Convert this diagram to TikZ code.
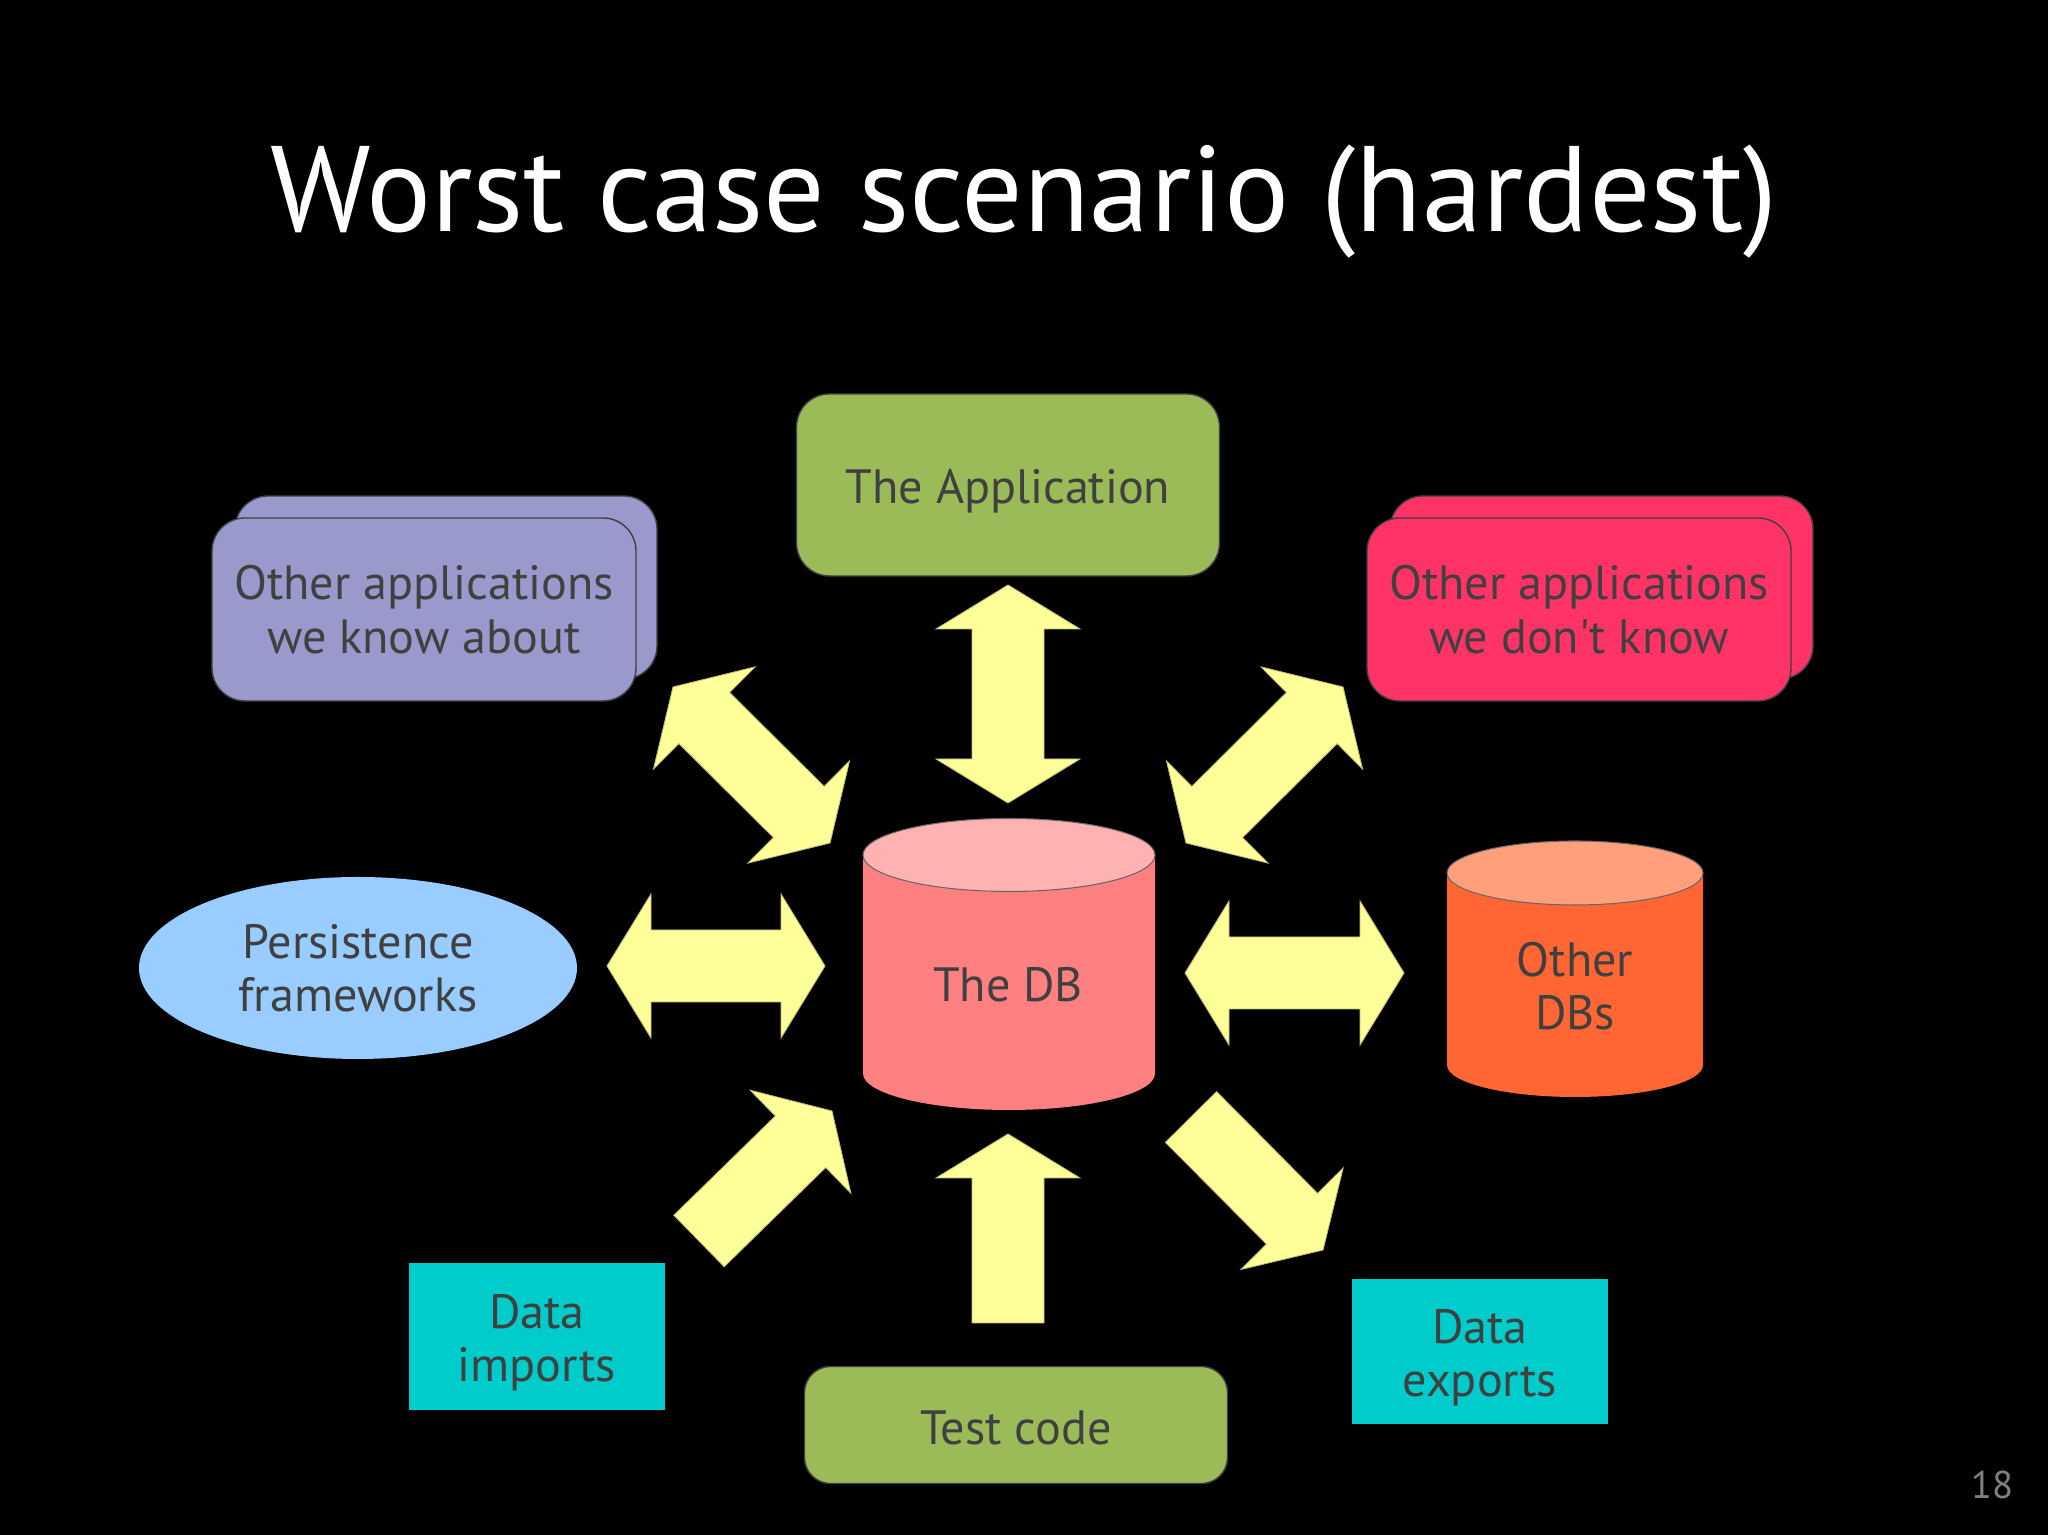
\documentclass[tikz,border=0pt]{standalone}
\usepackage{fontspec}
\setmainfont{PT Sans}
\usetikzlibrary{calc,shapes.geometric}
\definecolor{appgreen}{RGB}{155,187,89}
\definecolor{knowpurple}{RGB}{153,153,204}
\definecolor{unkred}{RGB}{255,51,102}
\definecolor{persblue}{RGB}{153,204,255}
\definecolor{dbbody}{RGB}{255,128,128}
\definecolor{dbtop}{RGB}{255,178,178}
\definecolor{odbbody}{RGB}{255,102,51}
\definecolor{odbtop}{RGB}{255,160,122}
\definecolor{datacyan}{RGB}{0,204,204}
\definecolor{arrowyellow}{RGB}{255,255,153}
\definecolor{txtgray}{RGB}{64,64,64}
\tikzset{
  txt/.style={text=txtgray, font=\fontsize{13.7}{15.2}\selectfont, align=center},
  outl/.style={draw=black!75, line width=0.4pt},
  rbox/.style={outl, rounded corners=3.3mm, inner sep=0pt},
  sbox/.style={inner sep=0pt},
  blockarrow/.style={fill=arrowyellow, draw=arrowyellow!75!black, line width=0.25pt},
}
\newcommand\dblarrow[2]{%
  \coordinate (ha) at ($(#1)!4.4mm!(#2)$);
  \coordinate (hb) at ($(#2)!4.4mm!(#1)$);
  \filldraw[blockarrow] (#1) -- ($(ha)!7.2mm!90:(#1)$) -- ($(ha)!3.6mm!90:(#1)$)
    -- ($(hb)!3.6mm!90:(#1)$) -- ($(hb)!7.2mm!90:(#1)$) -- (#2)
    -- ($(hb)!7.2mm!-90:(#1)$) -- ($(hb)!3.6mm!-90:(#1)$)
    -- ($(ha)!3.6mm!-90:(#1)$) -- ($(ha)!7.2mm!-90:(#1)$) -- cycle;}
\newcommand\sglarrow[2]{%
  \coordinate (hb) at ($(#2)!4.4mm!(#1)$);
  \filldraw[blockarrow] (#2) -- ($(hb)!7.2mm!90:(#1)$) -- ($(hb)!3.6mm!90:(#1)$)
    -- ($(#1)!3.6mm!-90:(#2)$) -- ($(#1)!3.6mm!90:(#2)$)
    -- ($(hb)!3.6mm!-90:(#1)$) -- ($(hb)!7.2mm!-90:(#1)$) -- cycle;}
\begin{document}
\begin{tikzpicture}[x=0.1mm,y=0.1mm]
\fill[black] (0,0) rectangle (2048,1535);
\useasboundingbox (0,0) rectangle (2048,1535);

% title
\node[anchor=base, text=white, font=\fontsize{34.6}{40}\selectfont] (title) at (1024,1303) {Worst case scenario (hardest)};

% the application
\node[rbox, fill=appgreen, minimum width=42.3mm, minimum height=18.2mm] (app) at (1008,1050) {};
\node[txt] (appT) at (1008,1043.5) {The Application};

% other apps we know about
\node[rbox, fill=knowpurple, minimum width=42.2mm, minimum height=18.3mm] (knowback) at (446,947.5) {};
\node[rbox, fill=knowpurple, minimum width=42.4mm, minimum height=18.3mm, txt] (know) at (424,925.5) {Other applications\\we know about};

% other apps we don't know
\node[rbox, fill=unkred, minimum width=42.3mm, minimum height=18.3mm] (unkback) at (1601.5,947.5) {};
\node[rbox, fill=unkred, minimum width=42.4mm, minimum height=18.3mm, txt] (unk) at (1579,925.5) {Other applications\\we don{\addfontfeature{Ligatures=TeXOff}'}t know};

% persistence frameworks
\node[ellipse, fill=persblue, minimum width=43.8mm, minimum height=18.2mm, inner sep=0pt, txt] (pers) at (358,567) {Persistence\\frameworks};

% the DB cylinder
\fill[dbbody] (863,680) -- (863,461.5) arc[start angle=180, end angle=360, x radius=14.6mm, y radius=3.65mm] -- (1155,680) -- cycle;
\draw[fill=dbtop, draw=black!60, line width=0.3pt] (1009,680) ellipse [x radius=14.6mm, y radius=3.65mm];
\node[txt] (db) at (1008,550) {The DB};

% other DBs cylinder
\fill[odbbody] (1447,662) -- (1447,470) arc[start angle=180, end angle=360, x radius=12.8mm, y radius=3.2mm] -- (1703,662) -- cycle;
\draw[fill=odbtop, draw=black!60, line width=0.3pt] (1575,662) ellipse [x radius=12.8mm, y radius=3.2mm];
\node[txt] (odb) at (1575,549) {Other\\DBs};

% data imports / exports
\node[sbox, fill=datacyan, minimum width=25.6mm, minimum height=14.7mm] (imp) at (537,198) {};
\node[txt] (impT) at (537,192) {Data\\imports};
\node[sbox, fill=datacyan, minimum width=25.6mm, minimum height=14.5mm] (exp) at (1480,183) {};
\node[txt] (expT) at (1480,177) {Data\\exports};

% test code
\node[rbox, rounded corners=2.6mm, fill=appgreen, minimum width=42.3mm, minimum height=11.7mm] (test) at (1016,110) {};
\node[txt] (testT) at (1016,107) {Test code};

% page number
\node[text=black!50, font=\fontsize{11}{13}\selectfont] (pg) at (1992,50) {18};

% arrow end points
\coordinate (aA1) at (1008,950);  \coordinate (aA2) at (1008,732);
\coordinate (aT1) at (1008,212);  \coordinate (aT2) at (1008,401);
\coordinate (aP1) at (607,569);   \coordinate (aP2) at (825,569);
\coordinate (aO1) at (1185,562);  \coordinate (aO2) at (1404,562);
\coordinate (aK1) at (673,848);   \coordinate (aK2) at (830,692);
\coordinate (aU1) at (1343,848);  \coordinate (aU2) at (1186,692);
\coordinate (aI1) at (699,294);   \coordinate (aI2) at (832,424);
\coordinate (aE1) at (1191,418);  \coordinate (aE2) at (1323,285);

\dblarrow{aA1}{aA2}
\sglarrow{aT1}{aT2}
\dblarrow{aP1}{aP2}
\dblarrow{aO1}{aO2}
\dblarrow{aK1}{aK2}
\dblarrow{aU1}{aU2}
\sglarrow{aI1}{aI2}
\sglarrow{aE1}{aE2}
\end{tikzpicture}
\end{document}
